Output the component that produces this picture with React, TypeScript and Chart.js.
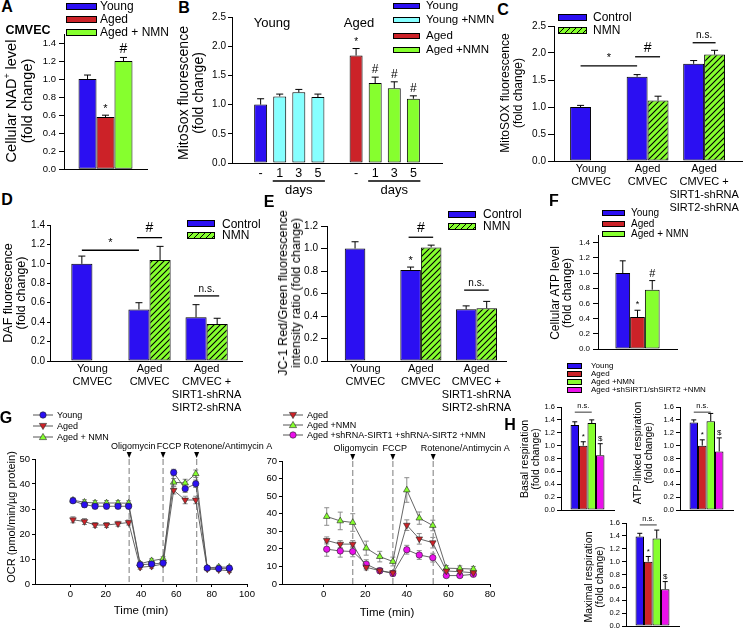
import React, { useEffect, useRef } from 'react';
import { Chart, registerables } from 'chart.js';

Chart.register(...registerables);

const FONT = '"Liberation Sans", Arial, Helvetica, sans-serif';
Chart.defaults.font.family = FONT;
Chart.defaults.color = '#000';

const BLUE = '#2b0ff2';
const RED = '#cc2228';
const GREEN = '#86ff2e';
const CYAN = '#86ffff';
const MAGENTA = '#ea10ea';

// ---------------- DATA ----------------
// A: Cellular NAD+ level
const aLegend = ['Young', 'Aged', 'Aged + NMN'];
const aValues = [1.0, 0.58, 1.2];
const aErrors = [0.045, 0.02, 0.04];

// B: MitoSox fluorescence
const bLegend = ['Young', 'Young +NMN', 'Aged', 'Aged +NMN'];
const bTicks = ['', '-', '1', '3', '5', '', '-', '1', '3', '5', ''];
const bYoung = [null, 1.0, null, null, null, null, null, null, null, null, null];
const bYoungErr = [null, 0.1, null, null, null, null, null, null, null, null, null];
const bYoungNMN = [null, null, 1.14, 1.21, 1.13, null, null, null, null, null, null];
const bYoungNMNErr = [null, null, 0.04, 0.05, 0.05, null, null, null, null, null, null];
const bAged = [null, null, null, null, null, null, 1.84, null, null, null, null];
const bAgedErr = [null, null, null, null, null, null, 0.12, null, null, null, null];
const bAgedNMN = [null, null, null, null, null, null, null, 1.37, 1.28, 1.1, null];
const bAgedNMNErr = [null, null, null, null, null, null, null, 0.1, 0.11, 0.05, null];
const bDayRanges = [[2, 4], [7, 9]];

// C, D, E: grouped Control / NMN
const cdeLegend = ['Control', 'NMN'];
const cdeGroups = ['Young\nCMVEC', 'Aged\nCMVEC', 'Aged\nCMVEC +\nSIRT1-shRNA\nSIRT2-shRNA'];
const cControl = [1.0, 1.56, 1.8];
const cControlErr = [0.03, 0.04, 0.06];
const cNMN = [null, 1.12, 1.97];
const cNMNErr = [null, 0.08, 0.08];
const dControl = [1.0, 0.53, 0.45];
const dControlErr = [0.08, 0.07, 0.13];
const dNMN = [null, 1.04, 0.38];
const dNMNErr = [null, 0.14, 0.06];
const eControl = [1.0, 0.81, 0.46];
const eControlErr = [0.06, 0.025, 0.03];
const eNMN = [null, 1.01, 0.47];
const eNMNErr = [null, 0.02, 0.06];

// F: Cellular ATP level
const fLegend = ['Young', 'Aged', 'Aged + NMN'];
const fValues = [1.0, 0.42, 0.78];
const fErrors = [0.16, 0.09, 0.12];

// G: OCR time courses
const gInjLabels = ['Oligomycin', 'FCCP', 'Rotenone/Antimycin A'];
const gLeftTime = [1.5, 8, 14, 20.5, 27, 33, 39.5, 46, 52.5, 58.5, 65, 71, 77.5, 84, 90];
const gLeftYoung = [33.3, 31.7, 31.1, 31.1, 31.1, 31.1, 7.7, 8.0, 8.4, 44.6, 38.1, 40.1, 6.4, 6.2, 6.3];
const gLeftYoungErr = [0.8, 1.0, 1.0, 1.0, 1.0, 1.0, 0.8, 0.8, 0.8, 1.3, 1.5, 1.5, 0.6, 0.6, 0.6];
const gLeftAged = [25.7, 25.0, 23.6, 23.6, 24.1, 24.6, 6.7, 7.1, 8.0, 37.5, 33.6, 33.6, 6.0, 5.7, 5.3];
const gLeftAgedErr = [1.2, 1.2, 1.0, 1.0, 1.0, 1.0, 0.8, 0.8, 0.8, 1.5, 1.5, 1.5, 0.7, 0.7, 0.7];
const gLeftNMN = [33.5, 32.7, 32.4, 32.4, 32.4, 32.3, 8.1, 9.3, 10.1, 40.7, 40.4, 44.1, 6.4, 6.8, 6.7];
const gLeftNMNErr = [1.0, 1.0, 1.0, 1.0, 1.0, 1.0, 0.8, 0.8, 0.8, 1.5, 1.5, 1.5, 0.7, 0.7, 0.7];
const gLeftInj = [33.3, 52.5, 71.5];
const gLeftLegend = ['Young', 'Aged', 'Aged + NMN'];

const gRightTime = [1.5, 8, 14, 20.5, 27, 33.3, 40, 46, 52.5, 59, 65.5, 72];
const gRightAged = [24.8, 22.7, 22.7, 9.5, 7.6, 6.4, 33.5, 25.7, 23.5, 7.4, 7.0, 6.4];
const gRightAgedErr = [2, 2, 2, 1.5, 1, 1, 3, 3, 3, 1, 1, 1];
const gRightNMN = [38.4, 35.9, 35.0, 20.4, 15.6, 12.8, 53.5, 37.5, 33.3, 9.0, 8.8, 8.5];
const gRightNMNErr = [5, 5, 5, 4, 3, 2.5, 7, 3.5, 3, 1.5, 1.5, 1.5];
const gRightSh = [19.8, 18.8, 18.5, 11.3, 7.6, 6.0, 19.5, 16.5, 15.0, 4.8, 4.8, 5.5];
const gRightShErr = [4, 3.5, 3, 2.5, 1.5, 1.5, 2.5, 2.5, 2.5, 1, 1, 1];
const gRightInj = [14, 33.3, 52.7];
const gRightLegend = ['Aged', 'Aged +NMN', 'Aged +shRNA-SIRT1 +shRNA-SIRT2 +NMN'];

// H: respiration
const hLegend = ['Young', 'Aged', 'Aged +NMN', 'Aged +shSIRT1/shSIRT2 +NMN'];
const hBasal = [1.32, 1.0, 1.35, 0.85];
const hBasalErr = [0.05, 0.06, 0.05, 0.18];
const hAtp = [1.36, 1.0, 1.38, 0.91];
const hAtpErr = [0.04, 0.09, 0.12, 0.21];
const hMax = [1.39, 1.0, 1.36, 0.57];
const hMaxErr = [0.05, 0.08, 0.13, 0.12];

// ---------------- HELPERS ----------------
function hatchPattern(): any {
  const c = document.createElement('canvas');
  c.width = 6;
  c.height = 6;
  const g = c.getContext('2d');
  if (!g) return GREEN;
  g.fillStyle = GREEN;
  g.fillRect(0, 0, 6, 6);
  g.strokeStyle = '#000';
  g.lineWidth = 1.1;
  g.beginPath();
  g.moveTo(-1, 7); g.lineTo(7, -1);
  g.moveTo(-1, 1); g.lineTo(1, -1);
  g.moveTo(5, 7); g.lineTo(7, 5);
  g.stroke();
  return g.createPattern(c, 'repeat') || GREEN;
}

function drawErrors(chart: any, mode: string) {
  const ctx = chart.ctx;
  chart.data.datasets.forEach((ds: any, di: number) => {
    if (!ds.errors || ds.errMode !== mode) return;
    const meta = chart.getDatasetMeta(di);
    const ys = chart.scales[meta.yAxisID];
    ctx.save();
    ctx.strokeStyle = ds.errColor || '#000';
    ctx.lineWidth = ds.errWidth || 1;
    meta.data.forEach((el: any, i: number) => {
      const raw = ds.data[i];
      const v = raw == null ? null : typeof raw === 'object' ? raw.y : raw;
      const e = ds.errors[i];
      if (v == null || !e) return;
      const x = el.x;
      const top = ys.getPixelForValue(v + e);
      const bot = mode === 'up' ? el.y : ys.getPixelForValue(v - e);
      const cap = ds.errCap ?? 3;
      ctx.beginPath();
      ctx.moveTo(x, bot);
      ctx.lineTo(x, top);
      ctx.moveTo(x - cap, top);
      ctx.lineTo(x + cap, top);
      if (mode === 'both') {
        ctx.moveTo(x - cap, bot);
        ctx.lineTo(x + cap, bot);
      }
      ctx.stroke();
    });
    ctx.restore();
  });
}

const errorBarPlugin = {
  id: 'errorBars',
  beforeDatasetsDraw(chart: any) { drawErrors(chart, 'both'); },
  afterDatasetsDraw(chart: any) { drawErrors(chart, 'up'); },
};

function marksPlugin(items: any[]) {
  return {
    id: 'marks',
    afterDatasetsDraw(chart: any) {
      const ctx = chart.ctx;
      const ys = chart.scales.y;
      ctx.save();
      ctx.fillStyle = '#000';
      ctx.strokeStyle = '#000';
      ctx.textAlign = 'center';
      ctx.textBaseline = 'bottom';
      items.forEach((it) => {
        ctx.font = `${it.size}px ${FONT}`;
        if (it.kind === 'above') {
          const ds = chart.data.datasets[it.ds];
          const v = ds.data[it.i];
          const e = (ds.errors && ds.errors[it.i]) || 0;
          const el = chart.getDatasetMeta(it.ds).data[it.i];
          ctx.fillText(it.text, el.x, ys.getPixelForValue(v + e) - (it.gap ?? 1));
        } else {
          const a = chart.getDatasetMeta(it.from[0]).data[it.from[1]];
          const b = chart.getDatasetMeta(it.to[0]).data[it.to[1]];
          const py = ys.getPixelForValue(it.y);
          const ext = it.ext || 0;
          ctx.lineWidth = it.lw || 1.3;
          ctx.beginPath();
          ctx.moveTo(a.x - ext, py);
          ctx.lineTo(b.x + ext, py);
          ctx.stroke();
          ctx.fillText(it.text, (a.x + b.x) / 2, py - 2);
        }
      });
      ctx.restore();
    },
  };
}

function daysPlugin(ranges: number[][]) {
  return {
    id: 'days',
    afterDraw(chart: any) {
      const ctx = chart.ctx;
      const xs = chart.scales.x;
      const bottom = chart.chartArea.bottom;
      ctx.save();
      ctx.strokeStyle = '#000';
      ctx.fillStyle = '#000';
      ctx.lineWidth = 1.5;
      ctx.font = `13px ${FONT}`;
      ctx.textAlign = 'center';
      ctx.textBaseline = 'middle';
      ranges.forEach(([a, b]) => {
        const x1 = xs.getPixelForValue(a) - 7;
        const x2 = xs.getPixelForValue(b) + 7;
        ctx.beginPath();
        ctx.moveTo(x1, bottom + 18);
        ctx.lineTo(x2, bottom + 18);
        ctx.stroke();
        ctx.fillText('days', (x1 + x2) / 2, bottom + 27);
      });
      ctx.restore();
    },
  };
}

function injectionPlugin(times: number[], labels: string[], dxs: number[]) {
  return {
    id: 'injections',
    beforeDatasetsDraw(chart: any) {
      const { ctx, chartArea } = chart;
      const xs = chart.scales.x;
      ctx.save();
      ctx.strokeStyle = '#9a9a9a';
      ctx.lineWidth = 1.3;
      ctx.setLineDash([6, 3]);
      times.forEach((t) => {
        const px = xs.getPixelForValue(t);
        ctx.beginPath();
        ctx.moveTo(px, chartArea.top);
        ctx.lineTo(px, chartArea.bottom);
        ctx.stroke();
      });
      ctx.restore();
    },
    afterDraw(chart: any) {
      const { ctx, chartArea } = chart;
      const xs = chart.scales.x;
      ctx.save();
      ctx.fillStyle = '#000';
      ctx.font = `9px ${FONT}`;
      ctx.textAlign = 'center';
      ctx.textBaseline = 'middle';
      times.forEach((t, i) => {
        const px = xs.getPixelForValue(t);
        ctx.beginPath();
        ctx.moveTo(px - 2.5, chartArea.top - 7);
        ctx.lineTo(px + 2.5, chartArea.top - 7);
        ctx.lineTo(px, chartArea.top - 1);
        ctx.closePath();
        ctx.fill();
        ctx.fillText(labels[i], px + dxs[i], chartArea.top - 12);
      });
      ctx.restore();
    },
  };
}

function common(pad: number[]) {
  return {
    responsive: false,
    animation: false,
    devicePixelRatio: 1,
    events: [],
    layout: { padding: { left: 0, top: pad[1], right: pad[2], bottom: 0 } },
    plugins: { legend: { display: false }, tooltip: { enabled: false }, title: { display: false } },
  };
}

function yScale(pad: number[], max: number, step: number, size: number, tickLen: number, tickPad: number, digits: number) {
  return {
    type: 'linear',
    min: 0,
    max,
    ticks: {
      stepSize: step,
      includeBounds: false,
      autoSkip: false,
      font: { size },
      padding: tickPad,
      color: '#000',
      callback: (v: any) => Number(v).toFixed(digits),
    },
    grid: { display: true, drawOnChartArea: false, drawTicks: true, tickLength: tickLen, color: '#000', lineWidth: 1 },
    border: { display: true, color: '#000', width: 1 },
    afterFit: (s: any) => { s.width = pad[0]; },
  };
}

function flatX(pad: number[]) {
  return {
    type: 'category',
    offset: true,
    ticks: { display: false },
    grid: { display: false, drawTicks: false, tickLength: 0 },
    border: { display: true, color: '#000', width: 1 },
    afterFit: (s: any) => { s.height = pad[3]; },
  };
}

type Spec = { area: number[]; pad: number[]; make: () => any };

function singleSpec(area: number[], pad: number[], values: number[], errors: number[], colors: string[], labels: string[],
  catPct: number, yMax: number, step: number, font: number, tickLen: number, tickPad: number, cap: number, marks: any[]): Spec {
  return {
    area,
    pad,
    make: () => ({
      type: 'bar',
      data: {
        labels: [''],
        datasets: values.map((v, i) => ({
          label: labels[i],
          data: [v],
          errors: [errors[i]],
          errMode: 'up',
          errCap: cap,
          backgroundColor: colors[i],
          borderColor: '#000',
          borderWidth: 1,
          borderSkipped: false,
          categoryPercentage: catPct,
          barPercentage: 1,
        })),
      },
      options: {
        ...common(pad),
        scales: { x: flatX(pad), y: yScale(pad, yMax, step, font, tickLen, tickPad, 1) },
      },
      plugins: [marksPlugin(marks)],
    }),
  };
}

function groupedSpec(area: number[], pad: number[], ctrl: any[], ctrlErr: any[], nmn: any[], nmnErr: any[],
  xMin: number, xMax: number, yMax: number, step: number, tickLen: number, tickPad: number, marks: any[]): Spec {
  return {
    area,
    pad,
    make: () => ({
      type: 'bar',
      data: {
        labels: cdeGroups.map((_, i) => i),
        datasets: [
          { label: cdeLegend[0], data: ctrl, errors: ctrlErr, errMode: 'up', errCap: 3.5, backgroundColor: BLUE, borderColor: '#000', borderWidth: 1, borderSkipped: false, categoryPercentage: 0.74, barPercentage: 1 },
          { label: cdeLegend[1], data: nmn, errors: nmnErr, errMode: 'up', errCap: 3.5, backgroundColor: hatchPattern(), borderColor: '#000', borderWidth: 1, borderSkipped: false, categoryPercentage: 0.74, barPercentage: 1 },
        ],
      },
      options: {
        ...common(pad),
        scales: {
          x: {
            type: 'linear',
            min: xMin,
            max: xMax,
            offset: false,
            afterBuildTicks: (s: any) => { s.ticks = cdeGroups.map((_, i) => ({ value: i })); },
            ticks: {
              autoSkip: false,
              maxRotation: 0,
              minRotation: 0,
              font: { size: 11 },
              padding: 1,
              color: '#000',
              callback: (v: any) => { const g = cdeGroups[Math.round(Number(v))]; return g ? g.split('\n') : ''; },
            },
            grid: { display: false, offset: false, drawTicks: false, tickLength: 0 },
            border: { display: true, color: '#000', width: 1 },
            afterFit: (s: any) => { s.height = pad[3]; },
          },
          y: yScale(pad, yMax, step, 10, tickLen, tickPad, 1),
        },
      },
      plugins: [marksPlugin(marks)],
    }),
  };
}

function lineSpec(area: number[], pad: number[], times: number[], series: any[], xMax: number, yMax: number, inj: number[], dxs: number[]): Spec {
  return {
    area,
    pad,
    make: () => ({
      type: 'line',
      data: {
        datasets: series.map((s) => ({
          label: s.label,
          data: times.map((t, i) => ({ x: t, y: s.values[i] })),
          errors: s.errors,
          errMode: 'both',
          errColor: '#8c8c8c',
          errCap: 2.5,
          borderColor: '#555',
          borderWidth: 0.9,
          pointStyle: s.style,
          pointRotation: s.rot,
          pointRadius: s.style === 'circle' ? 3.2 : 3.8,
          pointBackgroundColor: s.color,
          pointBorderColor: '#222',
          pointBorderWidth: 0.6,
          tension: 0,
          fill: false,
        })),
      },
      options: {
        ...common(pad),
        scales: {
          x: {
            type: 'linear',
            min: -20,
            max: xMax,
            afterBuildTicks: (s: any) => { s.ticks = s.ticks.filter((t: any) => t.value >= 0); },
            ticks: { stepSize: 20, autoSkip: false, maxRotation: 0, font: { size: 9.5 }, padding: 2, color: '#000' },
            grid: { display: true, drawOnChartArea: false, drawTicks: true, tickLength: 3, color: '#000' },
            border: { display: true, color: '#000', width: 1 },
            afterFit: (s: any) => { s.height = pad[3]; },
          },
          y: yScale(pad, yMax, 10, 9.5, 3, 2, 0),
        },
      },
      plugins: [injectionPlugin(inj, gInjLabels, dxs)],
    }),
  };
}

// ---------------- PANELS ----------------
const H_COLORS = [BLUE, RED, GREEN, MAGENTA];

const PANELS: Spec[] = [
  singleSpec([64, 34, 147, 170], [40, 10, 5, 8], aValues, aErrors, [BLUE, RED, GREEN], aLegend, 0.65, 1.5, 0.2, 9.5, 5, 3, 3.5, [
    { kind: 'above', ds: 1, i: 0, text: '*', size: 11 },
    { kind: 'above', ds: 2, i: 0, text: '#', size: 14 },
  ]),
  {
    area: [232, 17, 442, 163],
    pad: [40, 8, 5, 36],
    make: () => ({
      type: 'bar',
      data: {
        labels: bTicks,
        datasets: [
          { label: bLegend[0], data: bYoung, errors: bYoungErr, backgroundColor: BLUE },
          { label: bLegend[1], data: bYoungNMN, errors: bYoungNMNErr, backgroundColor: CYAN },
          { label: bLegend[2], data: bAged, errors: bAgedErr, backgroundColor: RED },
          { label: bLegend[3], data: bAgedNMN, errors: bAgedNMNErr, backgroundColor: GREEN },
        ].map((d) => ({ ...d, errMode: 'up', errCap: 3.5, borderColor: '#000', borderWidth: 1, borderSkipped: false, grouped: false, categoryPercentage: 1, barPercentage: 0.68 })),
      },
      options: {
        ...common([40, 8, 5, 36]),
        scales: {
          x: {
            type: 'category',
            offset: true,
            ticks: { autoSkip: false, maxRotation: 0, font: { size: 12.5 }, padding: 3, color: '#000' },
            grid: { display: false, drawTicks: false, tickLength: 0 },
            border: { display: true, color: '#000', width: 1 },
            afterFit: (s: any) => { s.height = 36; },
          },
          y: yScale([40, 8, 5, 36], 2.5, 0.5, 10, 4, 2, 1),
        },
      },
      plugins: [
        marksPlugin([
          { kind: 'above', ds: 2, i: 6, text: '*', size: 10 },
          { kind: 'above', ds: 3, i: 7, text: '#', size: 12 },
          { kind: 'above', ds: 3, i: 8, text: '#', size: 12 },
          { kind: 'above', ds: 3, i: 9, text: '#', size: 12 },
        ]),
        daysPlugin(bDayRanges),
      ],
    }),
  },
  groupedSpec([554, 26, 742, 161], [40, 8, 3, 60], cControl, cControlErr, cNMN, cNMNErr, -0.655, 2.67, 2.5, 0.5, 6, 2, [
    { kind: 'bracket', from: [0, 0], to: [0, 1], y: 1.76, text: '*', size: 11 },
    { kind: 'bracket', from: [0, 1], to: [1, 1], y: 1.93, text: '#', size: 14, ext: 2 },
    { kind: 'bracket', from: [0, 2], to: [1, 2], y: 2.19, text: 'n.s.', size: 10, ext: 1 },
  ]),
  groupedSpec([50, 225, 242, 361], [40, 8, 5, 58], dControl, dControlErr, dNMN, dNMNErr, -0.743, 2.62, 1.4, 0.2, 3, 2, [
    { kind: 'bracket', from: [0, 0], to: [0, 1], y: 1.14, text: '*', size: 11 },
    { kind: 'bracket', from: [0, 1], to: [1, 1], y: 1.27, text: '#', size: 14, ext: 2 },
    { kind: 'bracket', from: [0, 2], to: [1, 2], y: 0.67, text: 'n.s.', size: 10, ext: 2 },
  ]),
  groupedSpec([327, 225, 508, 361], [40, 8, 5, 58], eControl, eControlErr, eNMN, eNMNErr, -0.69, 2.54, 1.2, 0.2, 6, 3, [
    { kind: 'above', ds: 0, i: 1, text: '*', size: 11 },
    { kind: 'bracket', from: [0, 1], to: [1, 1], y: 1.1, text: '#', size: 14, ext: 2 },
    { kind: 'bracket', from: [0, 2], to: [1, 2], y: 0.63, text: 'n.s.', size: 10, ext: 2 },
  ]),
  singleSpec([598, 235, 677, 349], [36, 8, 5, 8], fValues, fErrors, [BLUE, RED, GREEN], fLegend, 0.56, 1.5, 0.2, 8, 5, 3, 3, [
    { kind: 'above', ds: 1, i: 0, text: '*', size: 9 },
    { kind: 'above', ds: 2, i: 0, text: '#', size: 11 },
  ]),
  singleSpec([561, 407, 614, 510], [30, 14, 4, 8], hBasal, hBasalErr, H_COLORS, hLegend, 0.64, 1.6, 0.2, 7.5, 4, 2, 2.5, [
    { kind: 'bracket', from: [0, 0], to: [2, 0], y: 1.52, text: 'n.s.', size: 7.5, lw: 0.8 },
    { kind: 'above', ds: 1, i: 0, text: '*', size: 8 },
    { kind: 'above', ds: 3, i: 0, text: '$', size: 8 },
  ]),
  singleSpec([680, 407, 733, 510], [30, 14, 4, 8], hAtp, hAtpErr, H_COLORS, hLegend, 0.64, 1.6, 0.2, 7.5, 4, 2, 2.5, [
    { kind: 'bracket', from: [0, 0], to: [2, 0], y: 1.52, text: 'n.s.', size: 7.5, lw: 0.8 },
    { kind: 'above', ds: 1, i: 0, text: '*', size: 8 },
    { kind: 'above', ds: 3, i: 0, text: '$', size: 8 },
  ]),
  singleSpec([626, 523, 679, 626], [30, 14, 4, 8], hMax, hMaxErr, H_COLORS, hLegend, 0.64, 1.6, 0.2, 7.5, 4, 2, 2.5, [
    { kind: 'bracket', from: [0, 0], to: [2, 0], y: 1.57, text: 'n.s.', size: 7.5, lw: 0.8 },
    { kind: 'above', ds: 1, i: 0, text: '*', size: 8 },
    { kind: 'above', ds: 3, i: 0, text: '$', size: 8 },
  ]),
  lineSpec([35, 459, 247, 584], [30, 22, 30, 22], gLeftTime, [
    { label: gLeftLegend[0], values: gLeftYoung, errors: gLeftYoungErr, color: BLUE, style: 'circle', rot: 0 },
    { label: gLeftLegend[1], values: gLeftAged, errors: gLeftAgedErr, color: RED, style: 'triangle', rot: 180 },
    { label: gLeftLegend[2], values: gLeftNMN, errors: gLeftNMNErr, color: GREEN, style: 'triangle', rot: 0 },
  ], 100, 50, gLeftInj, [4, 6, 31]),
  lineSpec([282, 461, 490, 584], [30, 22, 22, 22], gRightTime, [
    { label: gRightLegend[0], values: gRightAged, errors: gRightAgedErr, color: RED, style: 'triangle', rot: 180 },
    { label: gRightLegend[1], values: gRightNMN, errors: gRightNMNErr, color: GREEN, style: 'triangle', rot: 0 },
    { label: gRightLegend[2], values: gRightSh, errors: gRightShErr, color: MAGENTA, style: 'circle', rot: 0 },
  ], 80, 70, gRightInj, [3, 2, 32]),
];

// ---------------- COMPONENTS ----------------
function ChartBox({ spec }: { spec: Spec }) {
  const ref = useRef<HTMLCanvasElement | null>(null);
  useEffect(() => {
    if (!ref.current) return;
    const cfg = spec.make();
    cfg.plugins = [errorBarPlugin, ...(cfg.plugins || [])];
    const chart = new Chart(ref.current, cfg);
    return () => chart.destroy();
  }, [spec]);
  const [l, t, r, b] = spec.area;
  const [pl, pt, pr, pb] = spec.pad;
  const left = l - pl;
  const top = t - pt;
  const w = r - l + pl + pr;
  const h = b - t + pt + pb;
  return <canvas ref={ref} width={w} height={h} style={{ position: 'absolute', left, top, width: w, height: h }} />;
}

function Txt({ x, y, size, bold, align, children }: any) {
  return (
    <div style={{
      position: 'absolute', left: x, top: y, fontSize: size, fontWeight: bold ? 'bold' : 'normal',
      lineHeight: 1, whiteSpace: 'nowrap', transform: align === 'left' ? 'translate(0,-50%)' : 'translate(-50%,-50%)',
    }}>{children}</div>
  );
}

function VTitle({ x, y, size, lh, children }: any) {
  return (
    <div style={{
      position: 'absolute', left: x, top: y, fontSize: size, lineHeight: `${lh}px`, whiteSpace: 'nowrap',
      textAlign: 'center', transform: 'translate(-50%,-50%) rotate(-90deg)',
    }}>{children}</div>
  );
}

const HATCH_CSS = `repeating-linear-gradient(135deg, ${GREEN} 0px, ${GREEN} 3px, #000 3px, #000 4.2px)`;

function BoxLegend({ x, w, h, ys, textX, size, labels, fills }: any) {
  return (
    <>
      {labels.map((lab: string, i: number) => (
        <React.Fragment key={i}>
          <div style={{
            position: 'absolute', left: x, top: ys[i] - h / 2, width: w, height: h, boxSizing: 'border-box',
            border: '1px solid #000', background: fills[i],
          }} />
          <Txt x={textX} y={ys[i]} size={size} align="left">{lab}</Txt>
        </React.Fragment>
      ))}
    </>
  );
}

function Marker({ cx, cy, color, shape }: any) {
  if (shape === 'circle') return <circle cx={cx} cy={cy} r={3.2} fill={color} stroke="#222" strokeWidth={0.6} />;
  const pts = shape === 'up'
    ? `${cx},${cy - 3.6} ${cx - 3.6},${cy + 2.6} ${cx + 3.6},${cy + 2.6}`
    : `${cx},${cy + 3.6} ${cx - 3.6},${cy - 2.6} ${cx + 3.6},${cy - 2.6}`;
  return <polygon points={pts} fill={color} stroke="#222" strokeWidth={0.6} />;
}

function LineLegend({ x1, x2, ys, textX, labels, colors, shapes }: any) {
  return (
    <>
      <svg width={745} height={629} style={{ position: 'absolute', left: 0, top: 0, pointerEvents: 'none' }}>
        {labels.map((_: string, i: number) => (
          <g key={i}>
            <line x1={x1} x2={x2} y1={ys[i]} y2={ys[i]} stroke="#555" strokeWidth={1} />
            <Marker cx={(x1 + x2) / 2} cy={ys[i]} color={colors[i]} shape={shapes[i]} />
          </g>
        ))}
      </svg>
      {labels.map((lab: string, i: number) => (
        <Txt key={i} x={textX} y={ys[i]} size={9} align="left">{lab}</Txt>
      ))}
    </>
  );
}

export default function App() {
  return (
    <div style={{
      position: 'absolute', left: 0, top: 0, width: 745, height: 629, overflow: 'hidden',
      background: '#fff', fontFamily: FONT, color: '#000',
    }}>
      {PANELS.map((p, i) => <ChartBox key={i} spec={p} />)}

      {/* panel letters */}
      <Txt x={7} y={7} size={16} bold>A</Txt>
      <Txt x={184} y={8} size={16} bold>B</Txt>
      <Txt x={503} y={10} size={16} bold>C</Txt>
      <Txt x={7} y={200} size={16} bold>D</Txt>
      <Txt x={269} y={202} size={16} bold>E</Txt>
      <Txt x={554} y={201} size={16} bold>F</Txt>
      <Txt x={6} y={418} size={16} bold>G</Txt>
      <Txt x={510} y={425} size={16} bold>H</Txt>

      {/* A */}
      <Txt x={28} y={30} size={12.5} bold>CMVEC</Txt>
      <BoxLegend x={66} w={31} h={7} ys={[6, 19, 32]} textX={100} size={12} labels={aLegend} fills={[BLUE, RED, GREEN]} />
      <VTitle x={19} y={101} size={14.5} lh={16}>Cellular NAD<sup style={{ fontSize: '0.6em', lineHeight: 0 }}>+</sup> level<br />(fold change)</VTitle>

      {/* B */}
      <Txt x={272} y={22} size={13}>Young</Txt>
      <Txt x={359} y={22} size={13}>Aged</Txt>
      <BoxLegend x={393} w={27} h={6.5} ys={[6, 20, 36, 50]} textX={426} size={11.5} labels={bLegend} fills={[BLUE, CYAN, RED, GREEN]} />
      <VTitle x={191} y={93} size={14} lh={15}>MitoSox fluorescence<br />(fold change)</VTitle>

      {/* C */}
      <BoxLegend x={558} w={29} h={7} ys={[17, 30]} textX={593} size={12} labels={cdeLegend} fills={[BLUE, HATCH_CSS]} />
      <VTitle x={511} y={93} size={12} lh={12.5}>MitoSOX fluorescence<br />(fold change)</VTitle>

      {/* D */}
      <BoxLegend x={187} w={28} h={7} ys={[223.5, 235]} textX={222} size={12} labels={cdeLegend} fills={[BLUE, HATCH_CSS]} />
      <VTitle x={15} y={293} size={12.5} lh={13}>DAF fluorescence<br />(fold change)</VTitle>

      {/* E */}
      <BoxLegend x={448} w={28} h={7} ys={[214, 226]} textX={483} size={12} labels={cdeLegend} fills={[BLUE, HATCH_CSS]} />
      <VTitle x={290} y={293} size={12.5} lh={13}>JC-1 Red/Green fluorescence<br />intensity ratio (fold change)</VTitle>

      {/* F */}
      <BoxLegend x={602} w={23} h={6} ys={[213, 223.5, 233.5]} textX={631} size={10} labels={fLegend} fills={[BLUE, RED, GREEN]} />
      <VTitle x={561} y={293} size={12} lh={12}>Cellular ATP level<br />(fold change)</VTitle>

      {/* H */}
      <BoxLegend x={567} w={15} h={5.5} ys={[366, 374, 382, 390]} textX={591} size={8} labels={hLegend} fills={H_COLORS} />
      <VTitle x={529} y={459} size={10.5} lh={10.5}>Basal respiration<br />(fold change)</VTitle>
      <VTitle x={642} y={453} size={10.5} lh={10.5}>ATP-linked respiration<br />(fold change)</VTitle>
      <VTitle x={594} y={577} size={10.5} lh={11}>Maximal respiration<br />(fold change)</VTitle>

      {/* G */}
      <LineLegend x1={33} x2={53} ys={[415, 426, 437]} textX={57} labels={gLeftLegend} colors={[BLUE, RED, GREEN]} shapes={['circle', 'down', 'up']} />
      <LineLegend x1={283} x2={303} ys={[415, 425, 435]} textX={307} labels={gRightLegend} colors={[RED, GREEN, MAGENTA]} shapes={['down', 'up', 'circle']} />
      <VTitle x={11} y={517} size={11} lh={12}>OCR (pmol/min/µg protein)</VTitle>
      <Txt x={141} y={611} size={11.5}>Time (min)</Txt>
      <Txt x={387} y={613} size={11.5}>Time (min)</Txt>
    </div>
  );
}
